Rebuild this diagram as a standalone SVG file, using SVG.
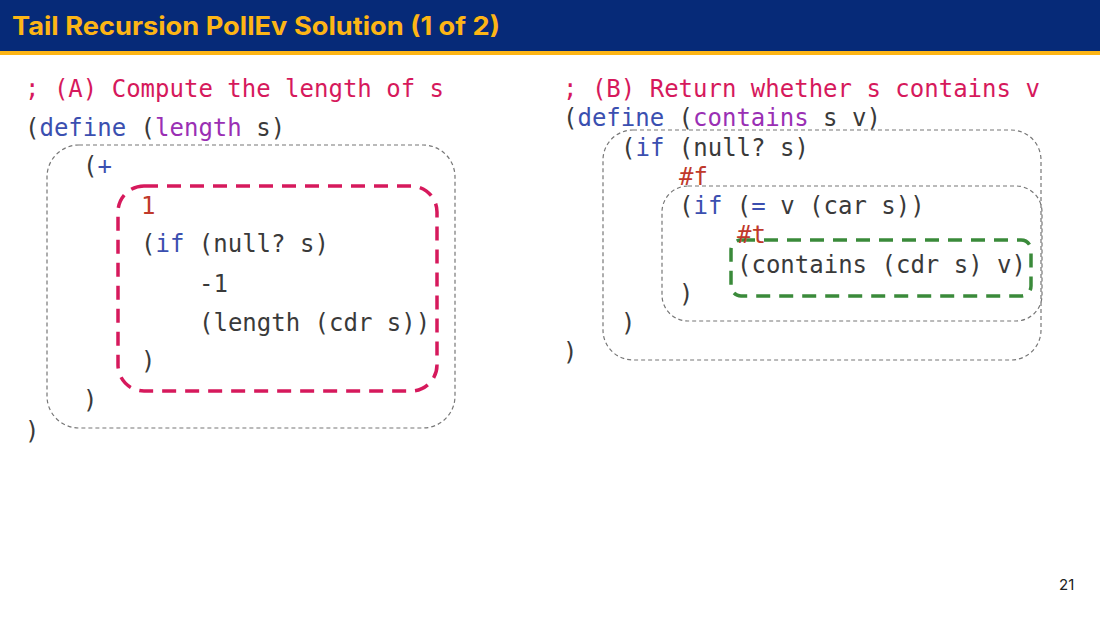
<svg xmlns="http://www.w3.org/2000/svg" width="1100" height="619" viewBox="0 0 1100 619">
<style>
.c{font-family:"DejaVu Sans Mono","Liberation Mono",monospace;font-size:24px;fill:#3a3a3a;white-space:pre}
.cm{fill:#d6195c}.kw{fill:#3b4fb0}.fn{fill:#9a2fb4}.lit{fill:#c0392b}
.g{fill:none;stroke:#777;stroke-width:1.2;stroke-dasharray:4 3}
</style>
<rect x="0" y="0" width="1100" height="51" fill="#062a78"/>
<rect x="0" y="51" width="1100" height="4" fill="#fdb515"/>
<text x="12" y="35" font-family="Inter,'Liberation Sans',sans-serif" font-size="25" font-weight="bold" fill="#fdb515" textLength="488" lengthAdjust="spacingAndGlyphs">Tail Recursion PollEv Solution (1 of 2)</text>
<g id="boxes">
<rect id="boxA" class="g" x="47" y="145" width="408" height="283" rx="32"/>
<rect id="tailA" x="118" y="186" width="319" height="205" rx="26" fill="none" stroke="#d6195c" stroke-width="3.5" stroke-dasharray="14 9"/>
<rect id="boxB1" class="g" x="603" y="130" width="438" height="230" rx="30"/>
<rect id="boxB2" class="g" x="662" y="186" width="380" height="135" rx="26"/>
<rect id="tailB" x="731" y="240" width="300" height="56" rx="10" fill="none" stroke="#3a8a3a" stroke-width="3.5" stroke-dasharray="14 9"/>
</g>
<g id="codeA" class="c">
<text x="25" y="97" class="c cm">; (A) Compute the length of s</text>
<text x="25" y="136" class="c">(<tspan class="kw">define</tspan> (<tspan class="fn">length</tspan> s)</text>
<text x="83" y="174" class="c">(<tspan class="kw">+</tspan></text>
<text x="141" y="214" class="c lit">1</text>
<text x="141" y="252" class="c">(<tspan class="kw">if</tspan> (null? s)</text>
<text x="199" y="292" class="c">-1</text>
<text x="199" y="331" class="c">(length (cdr s))</text>
<text x="141" y="369" class="c">)</text>
<text x="83" y="408" class="c">)</text>
<text x="25" y="439" class="c">)</text>
</g>
<g id="codeB">
<text x="563" y="97" class="c cm">; (B) Return whether s contains v</text>
<text x="563" y="126" class="c">(<tspan class="kw">define</tspan> (<tspan class="fn">contains</tspan> s v)</text>
<text x="621" y="156" class="c">(<tspan class="kw">if</tspan> (null? s)</text>
<text x="679" y="185" class="c lit">#f</text>
<text x="679" y="214" class="c">(<tspan class="kw">if</tspan> (<tspan class="kw">=</tspan> v (car s))</text>
<text x="737" y="243" class="c lit">#t</text>
<text x="737" y="273" class="c">(contains (cdr s) v)</text>
<text x="679" y="302" class="c">)</text>
<text x="621" y="331" class="c">)</text>
<text x="563" y="360" class="c">)</text>
</g>
<text x="1059" y="590" font-family="Inter,'Liberation Sans',sans-serif" font-size="15" fill="#222">21</text>
</svg>
